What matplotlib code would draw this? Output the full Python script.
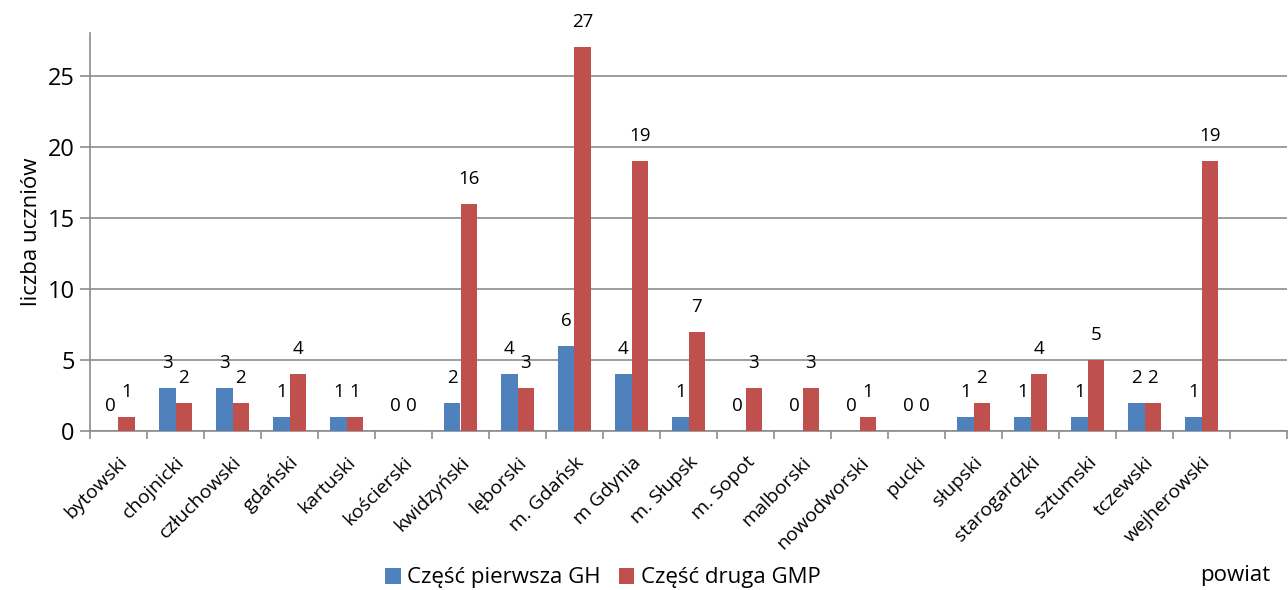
import matplotlib
matplotlib.use("Agg")
import matplotlib.pyplot as plt
import matplotlib.transforms as mtransforms
import numpy as np

categories = ["bytowski", "chojnicki", "człuchowski", "gdański", "kartuski", "kościerski",
              "kwidzyński", "lęborski", "m. Gdańsk", "m Gdynia", "m. Słupsk", "m. Sopot",
              "malborski", "nowodworski", "pucki", "słupski", "starogardzki", "sztumski",
              "tczewski", "wejherowski"]
gh = [0, 3, 3, 1, 1, 0, 2, 4, 6, 4, 1, 0, 0, 0, 0, 1, 1, 1, 2, 1]
gmp = [1, 2, 2, 4, 1, 0, 16, 3, 27, 19, 7, 3, 3, 1, 0, 2, 4, 5, 2, 19]
series_names = ["Część pierwsza GH", "Część druga GMP"]
colors = ["#4F81BD", "#C0504D"]

plt.rcParams['font.family'] = ['Open Sans', 'DejaVu Sans']

fig = plt.figure(figsize=(12.88, 5.90), dpi=100)
ax = fig.add_axes([90/1288, 1 - 431/590, (1287-90)/1288, (431-33)/590])

n_slots = len(categories) + 1
x = np.arange(len(categories))
w = 1/3.5
b1 = ax.bar(x - w/2, gh, w, color=colors[0], label=series_names[0], zorder=3)
b2 = ax.bar(x + w/2, gmp, w, color=colors[1], label=series_names[1], zorder=3)

for bars, vals in ((b1, gh), (b2, gmp)):
    for r, v in zip(bars, vals):
        ax.annotate(str(v), (r.get_x() + r.get_width()/2, v), xytext=(0, 18),
                    textcoords="offset points", ha="center", va="center", fontsize=13.5,
                    color="black")

ax.set_xlim(-0.5, n_slots - 0.5)
ax.set_ylim(0, 28)
ax.set_yticks([0, 5, 10, 15, 20, 25])
ax.yaxis.grid(True, color="#8C8C8C", linewidth=1.2, zorder=0)
ax.set_xticks(np.arange(n_slots + 1) - 0.5, minor=False)
ax.set_xticklabels([])
ax.set_xticks(x, minor=True)
ax.set_xticklabels(categories, minor=True, rotation=45, ha="right", rotation_mode="anchor",
                   fontsize=14)
offset = mtransforms.ScaledTranslation(4/100, 0, fig.dpi_scale_trans)
for lab in ax.get_xticklabels(minor=True):
    lab.set_transform(lab.get_transform() + offset)
ax.tick_params(axis="x", which="minor", length=0, pad=16)
ax.tick_params(axis="x", which="major", length=6, color="#8C8C8C", width=1.2)
ax.tick_params(axis="y", length=7, color="#8C8C8C", width=1.2, labelsize=17, pad=4)
for s in ("top", "right"):
    ax.spines[s].set_visible(False)
for s in ("left", "bottom"):
    ax.spines[s].set_color("#8C8C8C")
    ax.spines[s].set_linewidth(1.2)
ax.set_ylabel("liczba uczniów", fontsize=16, labelpad=4)

leg = fig.legend(handles=[b1, b2], labels=series_names, loc="center",
                 bbox_to_anchor=(603/1288, 1 - 578/590), ncol=2, frameon=False,
                 fontsize=16, handlelength=0.7, handleheight=0.7, handletextpad=0.3,
                 columnspacing=0.8)
fig.text(1235/1288, 1 - 575/590, "powiat", ha="center", va="center", fontsize=16)

fig.savefig("out.png", dpi=100)
